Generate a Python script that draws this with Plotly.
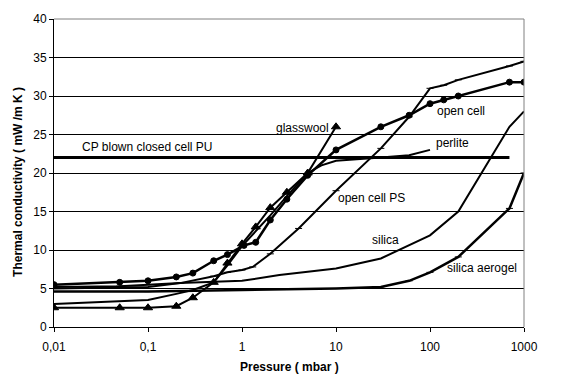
import math
import plotly.graph_objects as go

# ---- data (pressure in mbar, conductivity in mW/m K) ----
open_cell_p = [0.01, 0.05, 0.1, 0.2, 0.3, 0.5, 0.7, 1.05, 1.4, 2, 3, 5, 10, 30, 60, 100, 140, 200, 700, 1000]
open_cell_k = [5.5, 5.8, 6.0, 6.5, 7.0, 8.6, 9.4, 10.6, 11.0, 13.9, 16.6, 19.7, 23.0, 26.0, 27.5, 29.0, 29.5, 30.0, 31.8, 31.8]

glasswool_p = [0.01, 0.05, 0.1, 0.2, 0.3, 0.5, 0.7, 1.0, 1.4, 2, 3, 5, 10]
glasswool_k = [2.5, 2.5, 2.5, 2.7, 3.8, 5.8, 8.3, 10.8, 13.0, 15.5, 17.5, 20.0, 26.0]

open_cell_ps_p = [0.01, 0.05, 0.1, 0.22, 0.5, 0.7, 1.0, 1.3, 2, 4, 10, 30, 60, 100, 140, 200, 700, 1000]
open_cell_ps_k = [5.2, 5.3, 5.5, 5.7, 6.6, 7.1, 7.4, 7.8, 9.5, 12.8, 17.7, 23.2, 27.3, 31.0, 31.4, 32.1, 33.9, 34.5]

perlite_p = [0.01, 0.05, 0.1, 0.2, 0.3, 0.5, 0.7, 1, 2, 3, 5, 7, 10, 30, 60, 100]
perlite_k = [3.0, 3.3, 3.5, 4.3, 4.8, 5.8, 8.0, 10.5, 14.5, 17.0, 20.0, 21.0, 21.6, 22.0, 22.3, 23.0]

silica_p = [0.01, 0.1, 0.22, 1, 2.5, 10, 30, 100, 200, 700, 1000]
silica_k = [5.0, 5.2, 5.7, 6.0, 6.75, 7.6, 8.9, 11.9, 15.0, 26.0, 28.0]

aerogel_p = [0.01, 0.1, 1, 10, 30, 60, 100, 200, 700, 1000]
aerogel_k = [4.6, 4.6, 4.8, 5.0, 5.2, 6.0, 7.1, 9.1, 15.4, 20.0]

cp_pu_p = [0.01, 700]
cp_pu_k = [22.0, 22.0]

x_tickvals = [0.01, 0.1, 1, 10, 100, 1000]
x_ticktext = ["0,01", "0,1", "1", "10", "100", "1000"]
y_tickvals = [0, 5, 10, 15, 20, 25, 30, 35, 40]

FONT = "Liberation Sans, Arial, sans-serif"

fig = go.Figure()

def add(p, k, width=2, symbol=None, size=6):
    mode = "lines+markers" if symbol else "lines"
    fig.add_trace(go.Scatter(
        x=p, y=k, mode=mode,
        line=dict(color="black", width=width),
        marker=dict(symbol=symbol or "circle", size=size, color="black",
                    line=dict(color="black", width=1)),
        showlegend=False, hoverinfo="skip"))

add(cp_pu_p, cp_pu_k, width=3)
add(aerogel_p, aerogel_k, width=2.5, symbol="line-ew", size=5)
add(silica_p, silica_k, width=2)
add(perlite_p, perlite_k, width=2)
add(open_cell_ps_p, open_cell_ps_k, width=2, symbol="line-ew", size=5)
add(glasswool_p, glasswool_k, width=2, symbol="triangle-up", size=8)
add(open_cell_p, open_cell_k, width=2.5, symbol="circle", size=6)

labels = [
    ("CP blown closed cell PU", 0.0188, 23.4, "left"),
    ("glasswool", 8.9, 25.9, "right"),
    ("open cell", 212, 28.0, "center"),
    ("perlite", 172, 23.85, "center"),
    ("open cell PS", 9.9, 16.7, "left"),
    ("silica", 33.3, 11.3, "center"),
    ("silica aerogel", 143, 7.6, "left"),
]
for t, x, y, al in labels:
    fig.add_annotation(x=math.log10(x), y=y, text=t, showarrow=False,
                       xanchor=al, yanchor="middle",
                       font=dict(family=FONT, size=12, color="black"))

# axis titles
fig.add_annotation(xref="paper", yref="paper", x=0.502, y=-0.13, text="<b>Pressure ( mbar )</b>",
                   showarrow=False, xanchor="center", yanchor="middle",
                   font=dict(family=FONT, size=12, color="black"))
fig.add_annotation(xref="paper", yref="paper", x=-0.0766, y=0.471,
                   text="<b>Thermal conductivity ( mW /m K )</b>", textangle=-90,
                   showarrow=False, xanchor="center", yanchor="middle",
                   font=dict(family=FONT, size=12, color="black"))

# page body has an 8px margin, so the figure is offset by 8px
fig.update_layout(
    width=568, height=378,
    margin=dict(l=46, r=52, t=11, b=59, autoexpand=False),
    paper_bgcolor="white", plot_bgcolor="white",
    font=dict(family=FONT, size=12, color="black"),
    xaxis=dict(type="log", range=[-2, 3], tickvals=x_tickvals, ticktext=x_ticktext,
               showgrid=False, zeroline=False, showline=True, linecolor="black", linewidth=1,
               ticks="outside", ticklen=4, tickcolor="black", automargin=False,
               ticklabelstandoff=5),
    yaxis=dict(range=[0, 40], tickvals=y_tickvals,
               showgrid=True, gridcolor="black", gridwidth=1, zeroline=False,
               showline=True, linecolor="black", linewidth=1,
               ticks="outside", ticklen=4, tickcolor="black", automargin=False),
    shapes=[
        dict(type="line", xref="paper", yref="paper", x0=0, x1=1, y0=1, y1=1,
             line=dict(color="#808080", width=1), layer="above"),
        dict(type="line", xref="paper", yref="paper", x0=1, x1=1, y0=0, y1=1,
             line=dict(color="#808080", width=1), layer="above"),
    ],
)

fig.write_html("out.html")
